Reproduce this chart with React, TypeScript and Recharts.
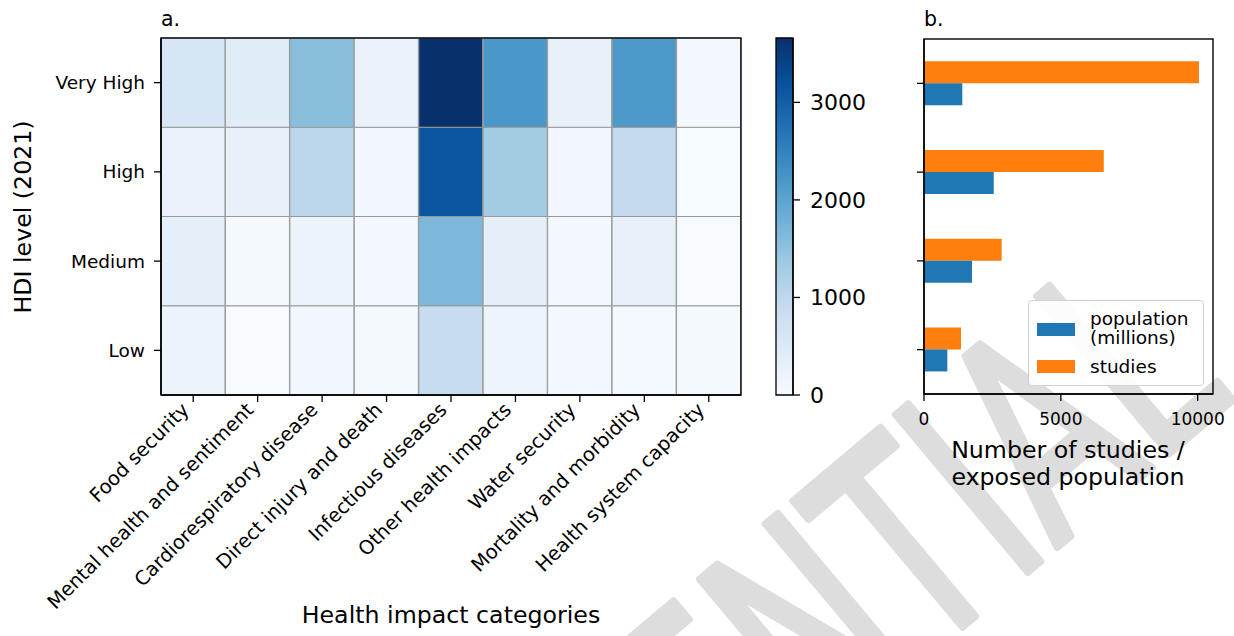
import { BarChart, Bar, XAxis, YAxis, Cell } from 'recharts';

const FONT = '"DejaVu Sans", sans-serif';

// panel a: heatmap of studies per impact category and HDI level
const CATEGORIES = [
  'Food security',
  'Mental health and sentiment',
  'Cardiorespiratory disease',
  'Direct injury and death',
  'Infectious diseases',
  'Other health impacts',
  'Water security',
  'Mortality and morbidity',
  'Health system capacity',
];
const HDI_LEVELS = ['Low', 'Medium', 'High', 'Very High'];
const LOW = [220, 20, 110, 55, 880, 183, 73, 65, 60];
const MEDIUM = [350, 55, 220, 73, 1668, 350, 90, 275, 20];
const HIGH = [256, 275, 1029, 110, 3130, 1314, 110, 960, 40];
const VERY_HIGH = [600, 430, 1570, 260, 3660, 2196, 280, 2180, 90];
const COLORBAR_TICKS = [0, 1000, 2000, 3000];

// panel b: studies vs exposed population
const BAR_LEVELS = ['Very High', 'High', 'Medium', 'Low'];
const STUDIES = [10047, 6569, 2838, 1352];
const POPULATION = [1400, 2548, 1754, 852];
const BAR_TICKS = [0, 5000, 10000];

const BLUES = ['#f7fbff', '#deebf7', '#c6dbef', '#9ecae1', '#6baed6', '#4292c6', '#2171b5', '#08519c', '#08306b'];

function hexToRgb(h: string) {
  return [1, 3, 5].map((i) => parseInt(h.slice(i, i + 2), 16));
}

function blues(t: number) {
  const c = Math.max(0, Math.min(1, t)) * (BLUES.length - 1);
  const i = Math.min(Math.floor(c), BLUES.length - 2);
  const f = c - i;
  const a = hexToRgb(BLUES[i]);
  const b = hexToRgb(BLUES[i + 1]);
  const m = a.map((v, k) => Math.round(v + (b[k] - v) * f));
  return `rgb(${m[0]},${m[1]},${m[2]})`;
}

const heatRows = [LOW, MEDIUM, HIGH, VERY_HIGH];
const vmax = Math.max(...heatRows.flat());
const heatData = CATEGORIES.map((name) => {
  const row: Record<string, string | number> = { name };
  HDI_LEVELS.forEach((_, r) => (row[`r${r}`] = 1));
  return row;
});
const barData = BAR_LEVELS.map((level, i) => ({ level, studies: STUDIES[i], population: POPULATION[i] }));

const axisLine = { stroke: '#000', strokeWidth: 1.4 };
const tickLine = { stroke: '#000', strokeWidth: 1.3 };

function CategoryTick(props: any) {
  const { x, y, payload } = props;
  const px = x - 3;
  const py = y + 7;
  return (
    <text
      x={px}
      y={py}
      transform={`rotate(-45 ${px} ${py})`}
      textAnchor="end"
      fontSize={19.5}
      fontFamily={FONT}
      fill="#000"
    >
      {payload.value}
    </text>
  );
}

export default function App() {
  return (
    <div
      style={{
        position: 'absolute',
        left: 0,
        top: 0,
        width: 1234,
        height: 636,
        background: '#fff',
        overflow: 'hidden',
        fontFamily: FONT,
      }}
    >
      {/* watermark */}
      <svg width={1234} height={636} style={{ position: 'absolute', left: 0, top: 0 }}>
        <text
          x={0}
          y={0}
          transform="translate(167,1294) rotate(-40) scale(0.67,1)"
          fontSize={281}
          fontFamily={FONT}
          fill="#dddddd"
          stroke="#dddddd"
          strokeWidth={8}
          strokeLinejoin="round"
        >
          CONFIDENTIAL
        </text>
      </svg>

      {/* a. heatmap */}
      <div style={{ position: 'absolute', left: 0, top: 0 }}>
        <BarChart
          width={760}
          height={636}
          data={heatData}
          margin={{ top: 38, right: 19, bottom: 0, left: 0 }}
          barCategoryGap={0}
          barGap={0}
        >
          <XAxis
            dataKey="name"
            type="category"
            height={241}
            interval={0}
            tick={<CategoryTick />}
            tickSize={7}
            tickLine={tickLine}
            axisLine={axisLine}
          />
          <YAxis
            type="number"
            domain={[0, 4]}
            ticks={[0.5, 1.5, 2.5, 3.5]}
            tickFormatter={(v: number) => HDI_LEVELS[Math.floor(v)]}
            width={161}
            tickSize={7}
            tickMargin={9}
            tick={{ fill: '#000', fontSize: 18.5, fontFamily: FONT }}
            tickLine={tickLine}
            axisLine={axisLine}
          />
          {HDI_LEVELS.map((lvl, r) => (
            <Bar key={lvl} dataKey={`r${r}`} stackId="h" stroke="#999" strokeWidth={1} isAnimationActive={false}>
              {heatRows[r].map((v, i) => (
                <Cell key={i} fill={blues(v / vmax)} />
              ))}
            </Bar>
          ))}
        </BarChart>
      </div>

      {/* colorbar */}
      <div style={{ position: 'absolute', left: 760, top: 0 }}>
        <BarChart
          width={120}
          height={636}
          data={[{ name: 'scale', v: vmax }]}
          margin={{ top: 38, right: 0, bottom: 241, left: 16 }}
          barCategoryGap={0}
        >
          <defs>
            <linearGradient id="bluesGrad" x1="0" y1="1" x2="0" y2="0">
              {BLUES.map((c, i) => (
                <stop key={c} offset={i / (BLUES.length - 1)} stopColor={c} />
              ))}
            </linearGradient>
          </defs>
          <XAxis dataKey="name" hide />
          <YAxis
            orientation="right"
            type="number"
            domain={[0, vmax]}
            ticks={COLORBAR_TICKS}
            width={87}
            tickSize={7}
            tickMargin={10}
            tick={{ fill: '#000', fontSize: 22, fontFamily: FONT, textAnchor: 'start' }}
            tickLine={tickLine}
            axisLine={axisLine}
          />
          <Bar dataKey="v" fill="url(#bluesGrad)" stroke="#000" strokeWidth={1.3} isAnimationActive={false} />
        </BarChart>
      </div>

      {/* b. bars */}
      <div style={{ position: 'absolute', left: 880, top: 0 }}>
        <BarChart
          layout="vertical"
          width={354}
          height={636}
          data={barData}
          margin={{ top: 39, right: 21, bottom: 0, left: 0 }}
          barCategoryGap="25%"
          barGap={0}
        >
          <XAxis
            type="number"
            domain={[0, 10559]}
            ticks={BAR_TICKS}
            height={242}
            tickSize={7}
            tickMargin={12}
            tick={{ fill: '#000', fontSize: 17, fontFamily: FONT }}
            tickLine={tickLine}
            axisLine={axisLine}
          />
          <YAxis
            type="category"
            dataKey="level"
            width={44}
            tickSize={7}
            tickFormatter={() => ''}
            tickLine={tickLine}
            axisLine={axisLine}
          />
          <Bar dataKey="studies" fill="#ff7f0e" isAnimationActive={false} />
          <Bar dataKey="population" fill="#1f77b4" isAnimationActive={false} />
        </BarChart>
      </div>

      {/* legend */}
      <div
        style={{
          position: 'absolute',
          left: 1028,
          top: 300,
          width: 174,
          height: 84,
          border: '1px solid #d0d0d0',
          borderRadius: 4,
          background: 'rgba(255,255,255,0.9)',
          fontSize: 18.5,
          lineHeight: '19px',
          color: '#000',
        }}
      >
        <div style={{ position: 'absolute', left: 8, top: 22, width: 38, height: 13, background: '#1f77b4' }} />
        <div style={{ position: 'absolute', left: 61, top: 8 }}>
          population
          <br />
          (millions)
        </div>
        <div style={{ position: 'absolute', left: 8, top: 59, width: 38, height: 13, background: '#ff7f0e' }} />
        <div style={{ position: 'absolute', left: 61, top: 56 }}>studies</div>
      </div>

      {/* frames, titles and axis labels */}
      <svg width={1234} height={636} style={{ position: 'absolute', left: 0, top: 0, pointerEvents: 'none' }}>
        <rect x={161} y={38} width={580} height={357} fill="none" stroke="#000" strokeWidth={1.4} />
        <rect x={924} y={39} width={289} height={355} fill="none" stroke="#000" strokeWidth={1.4} />
        <g fontFamily={FONT} fill="#000">
          <text x={161} y={26} fontSize={20.5}>a.</text>
          <text x={924} y={26} fontSize={20.5}>b.</text>
          <text x={31} y={217} fontSize={23.7} textAnchor="middle" transform="rotate(-90 31 217)">
            HDI level (2021)
          </text>
          <text x={451} y={623} fontSize={23.7} textAnchor="middle">Health impact categories</text>
          <text x={1068} y={458} fontSize={23.7} textAnchor="middle">Number of studies /</text>
          <text x={1068} y={485} fontSize={23.7} textAnchor="middle">exposed population</text>
        </g>
      </svg>
    </div>
  );
}
